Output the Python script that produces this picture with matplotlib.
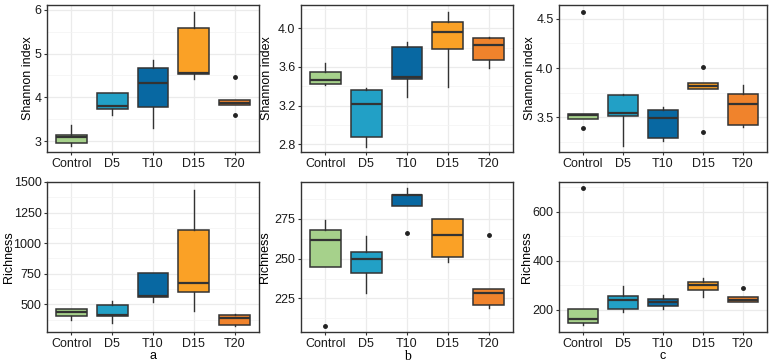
import matplotlib
matplotlib.use("Agg")
import matplotlib.pyplot as plt
from matplotlib.ticker import MultipleLocator

plt.rcParams["font.family"] = ["Liberation Sans", "DejaVu Sans"]

groups = ["Control", "D5", "T10", "D15", "T20"]
colors = ["#a6d18b", "#22a0c6", "#0868a2", "#faa126", "#f0832c"]

# each box: (whisker low, q1, median, q3, whisker high, fliers)
shannon_a = [
    (2.89, 2.95, 3.10, 3.14, 3.37, []),
    (3.60, 3.74, 3.80, 4.11, 4.11, []),
    (3.31, 3.79, 4.32, 4.66, 4.85, []),
    (4.41, 4.53, 4.56, 5.58, 5.95, []),
    (3.82, 3.82, 3.88, 3.95, 3.95, [4.47, 3.60]),
]
richness_a = [
    (369, 405, 437, 465, 465, []),
    (347, 405, 410, 497, 527, []),
    (519, 560, 565, 759, 759, []),
    (443, 601, 677, 1111, 1432, []),
    (323, 328, 388, 413, 424, []),
]
shannon_b = [
    (3.41, 3.42, 3.46, 3.55, 3.64, []),
    (2.77, 2.88, 3.22, 3.36, 3.38, []),
    (3.29, 3.47, 3.50, 3.81, 3.86, []),
    (3.39, 3.78, 3.96, 4.06, 4.17, []),
    (3.59, 3.67, 3.83, 3.90, 3.91, []),
]
richness_b = [
    (244.6, 244.6, 261.5, 268, 274, [208]),
    (228.6, 240.8, 249.7, 254, 264, []),
    (283, 283, 289.8, 290, 294, [266]),
    (248, 250.7, 265, 274.6, 274.6, []),
    (219, 220.8, 228.6, 230.7, 230.7, [264.9]),
]
shannon_c = [
    (3.48, 3.48, 3.52, 3.54, 3.54, [4.57, 3.39]),
    (3.21, 3.51, 3.55, 3.73, 3.74, []),
    (3.26, 3.29, 3.49, 3.58, 3.61, []),
    (3.79, 3.79, 3.82, 3.85, 3.85, [4.01, 3.35]),
    (3.40, 3.42, 3.64, 3.74, 3.83, []),
]
richness_c = [
    (137, 145, 162, 205, 205, [698]),
    (192, 201, 241, 255, 299, []),
    (205, 214, 230, 244, 260, []),
    (251, 280, 302, 313, 331, []),
    (230, 230, 241, 251, 251, [289]),
]

W, H = 772, 364
fig = plt.figure(figsize=(W / 100, H / 100), dpi=100)


def make_axes(left, top, right, bottom):
    return fig.add_axes([left / W, 1 - bottom / H, (right - left) / W, (bottom - top) / H])


def draw(ax, data, ylabel, ylim, major, minor, label_x):
    stats = []
    for lo, q1, med, q3, hi, fl in data:
        stats.append(dict(whislo=lo, q1=q1, med=med, q3=q3, whishi=hi, fliers=fl))
    bp = ax.bxp(stats, positions=range(1, 6), widths=0.75, patch_artist=True,
                showcaps=False,
                boxprops=dict(edgecolor="#333333", linewidth=1.1),
                medianprops=dict(color="#333333", linewidth=1.6),
                whiskerprops=dict(color="#333333", linewidth=1.0),
                flierprops=dict(marker="o", markersize=2.5, markerfacecolor="#222222",
                                markeredgecolor="#222222"))
    for patch, c in zip(bp["boxes"], colors):
        patch.set_facecolor(c)
    ax.set_xlim(0.4, 5.6)
    ax.set_ylim(*ylim)
    ax.set_xticks(range(1, 6))
    ax.set_xticklabels(groups)
    ax.yaxis.set_major_locator(MultipleLocator(major))
    ax.yaxis.set_minor_locator(MultipleLocator(minor))
    ax.grid(which="major", color="#ebebeb", linewidth=0.9)
    ax.grid(which="minor", axis="y", color="#f3f3f3", linewidth=0.5)
    ax.set_axisbelow(True)
    ax.tick_params(which="both", labelsize=9, length=2.5, color="#333333",
                   labelcolor="#1a1a1a", pad=1.5)
    ax.tick_params(which="minor", length=0)
    for s in ax.spines.values():
        s.set_color("#333333")
        s.set_linewidth(1.0)
    ax.set_ylabel(ylabel, fontsize=9, va="center")
    pos = ax.get_position()
    ax.yaxis.set_label_coords((label_x / W - pos.x0) / pos.width, 0.5)


draw(make_axes(47, 5, 259, 152), shannon_a, "Shannon index", (2.75, 6.11), 1, 0.5, 28)
draw(make_axes(47, 182, 259, 332), richness_a, "Richness", (274, 1500), 250, 125, 9)
draw(make_axes(301, 5, 513, 152), shannon_b, "Shannon index", (2.72, 4.24), 0.4, 0.2, 267)
draw(make_axes(301, 182, 513, 332), richness_b, "Richness", (204, 298), 25, 12.5, 265)
draw(make_axes(559, 5, 767, 152), shannon_c, "Shannon index", (3.15, 4.64), 0.5, 0.25, 530)
draw(make_axes(559, 182, 767, 332), richness_c, "Richness", (109, 722), 200, 100, 527)

fig.text(153 / W, 1 - 356 / H, "a", ha="center", va="center", fontsize=9)
fig.text(407 / W, 1 - 356 / H, "b", ha="center", va="center", fontsize=10,
         family="Liberation Serif")
fig.text(663 / W, 1 - 356 / H, "c", ha="center", va="center", fontsize=9)

fig.savefig("out.png", dpi=100)
